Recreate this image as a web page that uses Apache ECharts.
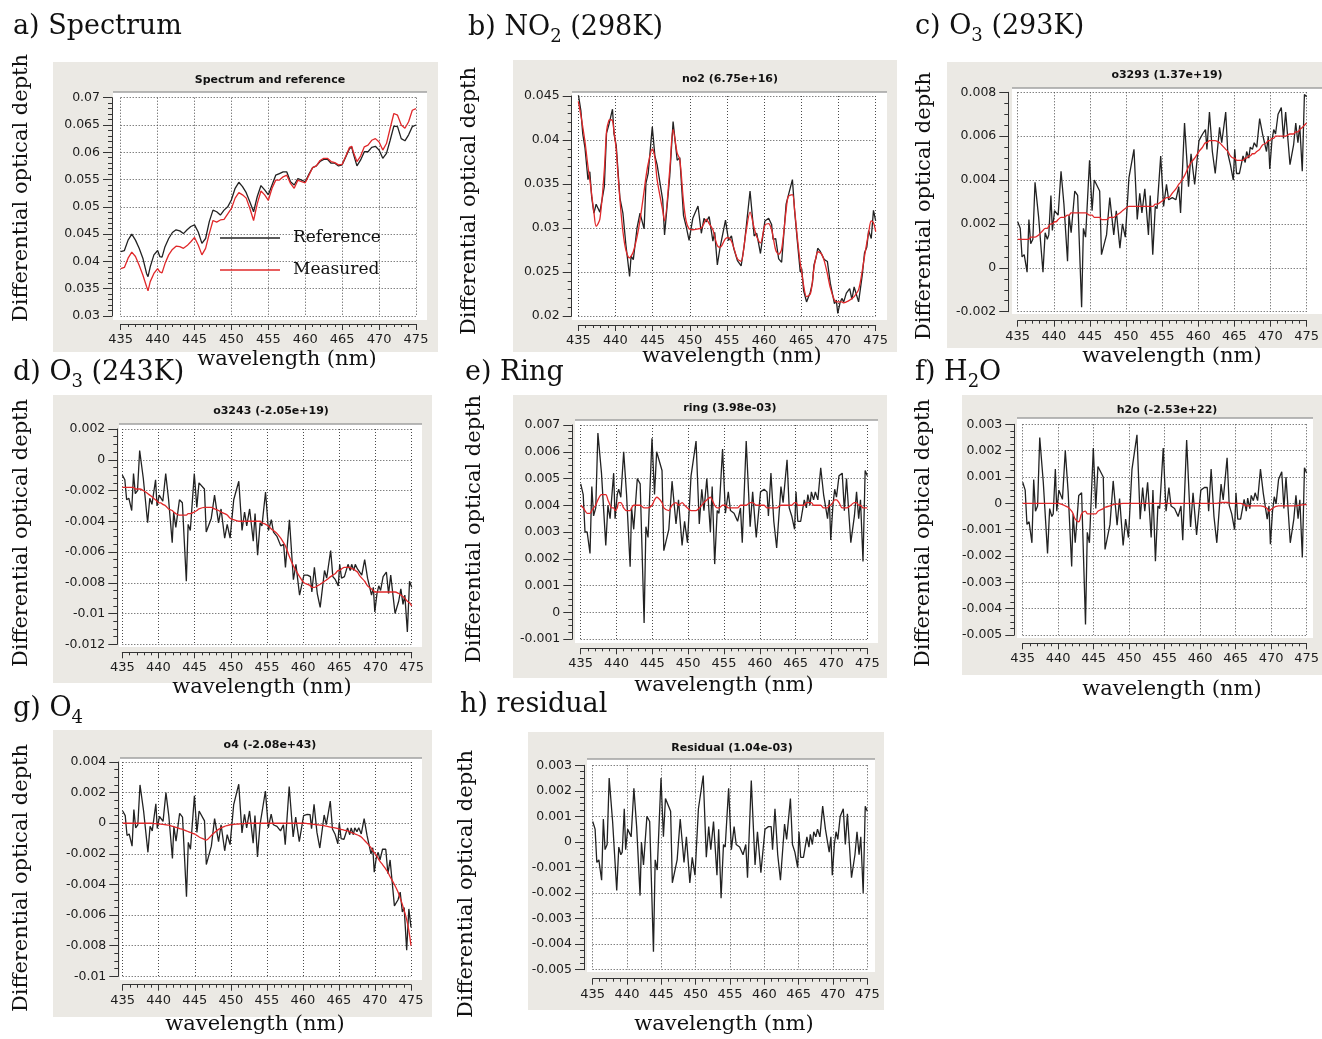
<!DOCTYPE html>
<html>
<head>
<meta charset="utf-8">
<script src="https://cdn.jsdelivr.net/npm/echarts@6/dist/echarts.min.js"></script>
<style>
  html, body { margin: 0; padding: 0; background: #fff; }
  #chart { width: 1322px; height: 1039px; }
</style>
</head>
<body>
<div id="chart"></div>
<script>
// ---------- data ----------
// Wavelength nodes (nm) shared by the fit panels b–h
const wl = [
  435.0, 435.35, 435.6, 435.9, 436.3, 436.55, 436.8, 437.1, 437.4, 437.9,
  438.5, 438.8, 439.1, 439.3, 439.6, 439.8, 440.1, 440.3, 440.6, 441.0,
  441.4, 441.9, 442.1, 442.4, 442.9, 443.3, 443.85, 444.1, 444.4, 444.95,
  445.3, 445.6, 446.35, 446.6, 447.3, 447.75, 448.3, 448.65, 449.15, 449.5,
  449.9, 450.4, 451.1, 451.55, 451.9, 452.2, 452.6, 453.1, 453.35, 453.7,
  454.05, 454.3, 454.8, 455.2, 455.6, 455.9, 456.4, 456.9, 457.3, 457.55,
  458.1, 458.65, 459.0, 459.5, 460.1, 460.6, 461.0, 461.2, 461.55, 461.95,
  462.35, 462.95, 463.25, 463.8, 464.1, 464.45, 464.85, 465.05, 465.3, 465.7,
  466.2, 466.5, 466.7, 467.0, 467.2, 467.5, 467.75, 468.1, 468.5, 468.9,
  469.45, 469.7, 469.9, 470.2, 470.45, 470.7, 471.05, 471.5, 471.8, 472.1,
  472.7, 473.2, 473.5, 473.8, 474.05, 474.4, 474.7, 475.0
];

// Fit residual (optical depth)
const residual = [
  0.0008, 0.0005, -0.0008, -0.0007, -0.0015, 0.0009, -0.0003, -0.0001, 0.0025, 0.0008,
  -0.0019, -0.0002, -0.0005, -0.0004, 0.0013, -0.0003, 0.0005, 0.0005, 0.0002, 0.0021,
  0.0006, -0.0021, 0.0000, -0.0009, 0.0010, 0.0008, -0.0043, -0.0007, -0.0011, 0.0025,
  0.0002, 0.0017, 0.0012, -0.0016, -0.0007, 0.0009, -0.0008, 0.0002, -0.0016, -0.0006,
  -0.0013, 0.0013, 0.0026, -0.0006, 0.0006, -0.0003, 0.0008, -0.0013, 0.0005, -0.0022,
  -0.0001, -0.0002, 0.0021, -0.0003, 0.0006, -0.0001, -0.0002, -0.0005, -0.0001, -0.0014,
  0.0024, -0.0009, 0.0004, -0.0012, 0.0005, 0.0006, 0.0006, -0.0003, 0.0013, -0.0005,
  -0.0015, 0.0007, 0.0001, 0.0017, -0.0001, -0.0004, -0.0010, 0.0004, -0.0006, -0.0006,
  0.0002, -0.0002, 0.0003, -0.0001, 0.0004, 0.0002, 0.0005, 0.0002, 0.0014, 0.0005,
  -0.0004, 0.0002, -0.0013, -0.0001, 0.0004, 0.0001, 0.0010, 0.0013, -0.0001, 0.0011,
  -0.0014, -0.0005, 0.0004, -0.0005, 0.0002, -0.0020, 0.0014, 0.0012
];

// Fitted (scaled) cross sections
const fitNO2 = [
  0.0444, 0.0428, 0.0415, 0.0398, 0.0370, 0.0355, 0.0338, 0.0318, 0.0302, 0.0310,
  0.0366, 0.0410, 0.0422, 0.0423, 0.0422, 0.0410, 0.0389, 0.0365, 0.0332, 0.0296,
  0.0275, 0.0266, 0.0268, 0.0273, 0.0290, 0.0309, 0.0342, 0.0358, 0.0373, 0.0390,
  0.0380, 0.0355, 0.0320, 0.0308, 0.0366, 0.0412, 0.0385, 0.0378, 0.0330, 0.0308,
  0.0299, 0.0298, 0.0299, 0.0300, 0.0305, 0.0310, 0.0305, 0.0298, 0.0290, 0.0280,
  0.0278, 0.0280, 0.0288, 0.0289, 0.0285, 0.0278, 0.0265, 0.0262, 0.0280, 0.0295,
  0.0318, 0.0300, 0.0290, 0.0283, 0.0303, 0.0305, 0.0298, 0.0290, 0.0275, 0.0270,
  0.0276, 0.0320, 0.0336, 0.0338, 0.0320, 0.0290, 0.0260, 0.0250, 0.0235, 0.0222,
  0.0225, 0.0240, 0.0255, 0.0268, 0.0273, 0.0272, 0.0270, 0.0262, 0.0248, 0.0232,
  0.0218, 0.0216, 0.0216, 0.0216, 0.0216, 0.0215, 0.0216, 0.0218, 0.0220, 0.0222,
  0.0230, 0.0252, 0.0268, 0.0283, 0.0295, 0.0308, 0.0306, 0.0296
];

const fitO3_293 = [
  0.0013, 0.0013, 0.0013, 0.0013, 0.0013, 0.0013, 0.0014, 0.0014, 0.0014, 0.0015,
  0.0017, 0.0018, 0.0018, 0.0019, 0.0020, 0.0020, 0.0021, 0.0021, 0.0022, 0.0023,
  0.0023, 0.0024, 0.0024, 0.0025, 0.0025, 0.0025, 0.0025, 0.0025, 0.0025, 0.0024,
  0.0024, 0.0023, 0.0023, 0.0022, 0.0022, 0.0023, 0.0023, 0.0024, 0.0025, 0.0026,
  0.0027, 0.0028, 0.0028, 0.0028, 0.0028, 0.0028, 0.0028, 0.0028, 0.0028, 0.0028,
  0.0029, 0.0029, 0.0030, 0.0031, 0.0032, 0.0032, 0.0034, 0.0036, 0.0038, 0.0039,
  0.0042, 0.0046, 0.0048, 0.0050, 0.0053, 0.0055, 0.0057, 0.0057, 0.0058, 0.0058,
  0.0058, 0.0057, 0.0056, 0.0054, 0.0053, 0.0051, 0.0050, 0.0050, 0.0049, 0.0049,
  0.0049, 0.0050, 0.0050, 0.0051, 0.0051, 0.0052, 0.0052, 0.0053, 0.0054, 0.0056,
  0.0057, 0.0058, 0.0058, 0.0059, 0.0059, 0.0060, 0.0060, 0.0060, 0.0060, 0.0060,
  0.0061, 0.0061, 0.0062, 0.0062, 0.0063, 0.0064, 0.0065, 0.0066
];

const fitO3_243 = [
  -0.0018, -0.0018, -0.0018, -0.0018, -0.0018, -0.0018, -0.0019, -0.0019, -0.0019, -0.0020,
  -0.0022, -0.0023, -0.0024, -0.0025, -0.0026, -0.0027, -0.0028, -0.0028, -0.0029, -0.0030,
  -0.0032, -0.0033, -0.0034, -0.0035, -0.0036, -0.0036, -0.0036, -0.0035, -0.0035, -0.0034,
  -0.0033, -0.0032, -0.0031, -0.0031, -0.0031, -0.0032, -0.0033, -0.0034, -0.0035, -0.0036,
  -0.0038, -0.0039, -0.0040, -0.0040, -0.0040, -0.0040, -0.0040, -0.0040, -0.0040, -0.0040,
  -0.0040, -0.0041, -0.0042, -0.0043, -0.0045, -0.0046, -0.0048, -0.0051, -0.0054, -0.0056,
  -0.0063, -0.0069, -0.0072, -0.0076, -0.0080, -0.0081, -0.0082, -0.0083, -0.0083, -0.0082,
  -0.0081, -0.0079, -0.0078, -0.0076, -0.0075, -0.0074, -0.0072, -0.0072, -0.0071, -0.0070,
  -0.0070, -0.0070, -0.0071, -0.0071, -0.0072, -0.0073, -0.0075, -0.0077, -0.0079, -0.0082,
  -0.0084, -0.0085, -0.0086, -0.0086, -0.0086, -0.0086, -0.0086, -0.0086, -0.0086, -0.0086,
  -0.0086, -0.0087, -0.0088, -0.0089, -0.0090, -0.0092, -0.0093, -0.0095
];

const fitRing = [
  0.0040, 0.0039, 0.0038, 0.0037, 0.0037, 0.0038, 0.0039, 0.0040, 0.0042, 0.0044,
  0.0044, 0.0042, 0.0040, 0.0039, 0.0039, 0.0038, 0.0039, 0.0041, 0.0041, 0.0039,
  0.0038, 0.0038, 0.0039, 0.0040, 0.0040, 0.0040, 0.0039, 0.0039, 0.0039, 0.0040,
  0.0042, 0.0043, 0.0041, 0.0039, 0.0038, 0.0040, 0.0041, 0.0040, 0.0041, 0.0040,
  0.0039, 0.0038, 0.0038, 0.0039, 0.0040, 0.0041, 0.0042, 0.0043, 0.0042, 0.0040,
  0.0039, 0.0039, 0.0040, 0.0040, 0.0039, 0.0039, 0.0039, 0.0039, 0.0040, 0.0040,
  0.0040, 0.0041, 0.0041, 0.0040, 0.0040, 0.0040, 0.0039, 0.0039, 0.0039, 0.0039,
  0.0039, 0.0040, 0.0040, 0.0040, 0.0040, 0.0040, 0.0041, 0.0041, 0.0040, 0.0040,
  0.0040, 0.0041, 0.0041, 0.0041, 0.0041, 0.0040, 0.0040, 0.0040, 0.0040, 0.0039,
  0.0039, 0.0040, 0.0040, 0.0041, 0.0042, 0.0042, 0.0041, 0.0039, 0.0039, 0.0039,
  0.0040, 0.0041, 0.0041, 0.0040, 0.0040, 0.0039, 0.0039, 0.0039
];

const fitH2O = [
  0, 0, 0, 0, 0, 0, 0, 0, 0, 0,
  0, 0, 0, 0, 0, 0, 0, -0.00002, -0.00005, -0.0001,
  -0.00015, -0.0003, -0.0004, -0.0006, -0.0007, -0.0004, -0.0003, -0.0004, -0.0004, -0.0004,
  -0.0004, -0.0003, -0.0002, -0.00015, -0.0001, -0.00005, -0.00003, -0.00002, 0, 0,
  0, 0, 0, 0, 0, 0, 0, 0, 0, 0,
  0, 0, 0, 0, 0, 0, 0, 0, 0, 0,
  0, 0, 0, 0, 0, 0, 0, 0, 0, 0,
  0, 0.00003, 0.00003, 0.00003, 0.00002, 0, 0, 0, 0, 0,
  -0.00005, -0.0001, -0.0001, -0.0001, -0.0001, -0.0001, -0.0001, -0.0001, -0.0001, -0.00012,
  -0.0002, -0.0003, -0.00025, -0.0002, -0.00015, -0.00012, -0.0001, -0.0001, -0.0001, -0.0001,
  -0.0001, -0.0001, -0.0001, -0.00008, -0.00007, -0.00006, -0.00005, -0.00005
];

const fitO4 = [
  0, 0, 0, 0, 0, 0, 0, 0, 0, 0,
  0, 0, 0, -0.00002, -0.00003, -0.00004, -0.00005, -0.00006, -0.00008, -0.0001,
  -0.00013, -0.0002, -0.00022, -0.00027, -0.00035, -0.0004, -0.0005, -0.00055, -0.0006, -0.0007,
  -0.0008, -0.0009, -0.00105, -0.0011, -0.0008, -0.0006, -0.0004, -0.0003, -0.0002, -0.00015,
  -0.0001, -0.00008, -0.00005, -0.00003, -0.00002, 0, 0, 0, 0, 0,
  0, 0, 0, 0, 0, 0, 0, 0, 0, 0,
  0, 0, 0, 0, 0, -0.00002, -0.00004, -0.00005, -0.00007, -0.0001,
  -0.00012, -0.00016, -0.00019, -0.00025, -0.00028, -0.0003, -0.00035, -0.00038, -0.0004, -0.00045,
  -0.0005, -0.00055, -0.0006, -0.00065, -0.0007, -0.00075, -0.0008, -0.0009, -0.0011, -0.0013,
  -0.0016, -0.0018, -0.0019, -0.0021, -0.0023, -0.0025, -0.0027, -0.0030, -0.0032, -0.0035,
  -0.0040, -0.0045, -0.0049, -0.0053, -0.0057, -0.0063, -0.0070, -0.0080
];

// Panel a: measured spectrum and reference
const specWl = [
  435.0, 435.5, 436.0, 436.5, 437.0, 437.5, 438.0, 438.5, 438.7, 439.0,
  439.5, 440.0, 440.3, 440.6, 441.0, 441.5, 442.0, 442.5, 443.0, 443.5,
  444.0, 444.5, 445.0, 445.5, 446.0, 446.5, 447.0, 447.5, 448.0, 448.5,
  449.0, 449.5, 450.0, 450.5, 451.0, 451.5, 452.0, 452.5, 453.0, 453.5,
  454.0, 454.5, 455.0, 455.5, 456.0, 456.5, 457.0, 457.5, 458.0, 458.5,
  459.0, 459.5, 460.0, 460.5, 461.0, 461.5, 462.0, 462.5, 463.0, 463.5,
  464.0, 464.5, 465.0, 465.5, 466.0, 466.3, 466.5, 467.0, 467.5, 468.0,
  468.5, 469.0, 469.5, 470.0, 470.5, 471.0, 471.5, 472.0, 472.5, 473.0,
  473.5, 474.0, 474.5, 475.0
];
const specReference = [
  0.0418, 0.0420, 0.0439, 0.0450, 0.0439, 0.0424, 0.0406, 0.0378, 0.0372, 0.0390,
  0.0412, 0.0420, 0.0409, 0.0408, 0.0427, 0.0442, 0.0453, 0.0458, 0.0456, 0.0451,
  0.0458, 0.0464, 0.0467, 0.0454, 0.0433, 0.0442, 0.0473, 0.0494, 0.0491, 0.0485,
  0.0494, 0.0500, 0.0513, 0.0534, 0.0545, 0.0537, 0.0526, 0.0509, 0.0491, 0.0519,
  0.0539, 0.0531, 0.0522, 0.0540, 0.0558, 0.0561, 0.0564, 0.0564, 0.0546, 0.0540,
  0.0552, 0.0549, 0.0546, 0.0560, 0.0572, 0.0575, 0.0583, 0.0587, 0.0587, 0.0580,
  0.0580, 0.0575, 0.0577, 0.0592, 0.0607, 0.0609, 0.0598, 0.0575, 0.0586, 0.0601,
  0.0601, 0.0609, 0.0611, 0.0604, 0.0589, 0.0598, 0.0622, 0.0648, 0.0647, 0.0625,
  0.0621, 0.0632, 0.0647, 0.0650
];
const specMeasured = [
  0.0387, 0.0389, 0.0406, 0.0417, 0.0409, 0.0393, 0.0375, 0.0354, 0.0346, 0.0363,
  0.0378, 0.0387, 0.0381, 0.0379, 0.0396, 0.0412, 0.0422, 0.0428, 0.0427, 0.0424,
  0.0429, 0.0436, 0.0444, 0.0430, 0.0412, 0.0424, 0.0451, 0.0475, 0.0472, 0.0476,
  0.0477, 0.0487, 0.0497, 0.0516, 0.0526, 0.0522, 0.0516, 0.0497, 0.0475, 0.0506,
  0.0529, 0.0522, 0.0512, 0.0534, 0.0549, 0.0549, 0.0555, 0.0558, 0.0543, 0.0534,
  0.0549, 0.0546, 0.0544, 0.0558, 0.0572, 0.0575, 0.0585, 0.0589, 0.0589, 0.0583,
  0.0581, 0.0577, 0.0578, 0.0593, 0.0609, 0.0611, 0.0601, 0.0583, 0.0593, 0.0610,
  0.0613, 0.0622, 0.0625, 0.0619, 0.0604, 0.0616, 0.0644, 0.0671, 0.0668, 0.0650,
  0.0644, 0.0656, 0.0677, 0.0680
];

// Axis scales: [min, max, major step, minor splits]
const xScale = [435, 475, 5, 5];
const yScales = [
  [0.03, 0.07, 0.005, 5],
  [0.02, 0.045, 0.005, 5],
  [-0.002, 0.008, 0.002, 4],
  [-0.012, 0.002, 0.002, 4],
  [-0.001, 0.007, 0.001, 4],
  [-0.005, 0.003, 0.001, 4],
  [-0.01, 0.004, 0.002, 4],
  [-0.005, 0.003, 0.001, 4]
];

// Texts
const plotTitles = [
  'Spectrum and reference', 'no2 (6.75e+16)', 'o3293 (1.37e+19)', 'o3243 (-2.05e+19)',
  'ring (3.98e-03)', 'h2o (-2.53e+22)', 'o4 (-2.08e+43)', 'Residual (1.04e-03)'
];
// [text, isSubscript] pieces
const panelNames = [
  [['a) Spectrum']],
  [['b) NO'], ['2', true], [' (298K)']],
  [['c) O'], ['3', true], [' (293K)']],
  [['d) O'], ['3', true], [' (243K)']],
  [['e) Ring']],
  [['f) H'], ['2', true], ['O']],
  [['g) O'], ['4', true]],
  [['h) residual']]
];
const yTitle = 'Differential optical depth';
const xTitle = 'wavelength (nm)';
const legendNames = ['Reference', 'Measured'];

// ---------- layout ----------
// box: beige panel; white: plotting canvas; grid: data rect [left, top, width, height]
const layout = [
  { box: [53, 62, 385, 290], white: [113, 92, 314, 228], grid: [120.7, 97.7, 295.3, 218.3], yOff: 8.7, xOff: 8,
    title: [270, 80], name: [13, 27], yT: [22, 188], xT: [287, 360] },
  { box: [513, 60, 384, 292], white: [572, 92, 315, 228], grid: [578.3, 96, 297.4, 220], yOff: 6.6, xOff: 9,
    title: [730, 79], name: [468, 28], yT: [470, 201], xT: [732, 357] },
  { box: [947, 62, 380, 286], white: [1012, 88, 315, 226], grid: [1017.7, 92.3, 295, 219.4], yOff: 9.4, xOff: 9,
    title: [1167, 75], name: [915, 27], yT: [925, 206], xT: [1172, 357] },
  { box: [53, 395, 379, 288], white: [119, 424, 303, 223], grid: [122.3, 429, 289.4, 215.3], yOff: 5, xOff: 8,
    title: [271, 411], name: [13, 373], yT: [22, 533], xT: [262, 688] },
  { box: [513, 395, 374, 283], white: [575, 420, 303, 223], grid: [580.7, 425, 286.6, 214], yOff: 8.4, xOff: 9.3,
    title: [730, 408], name: [465, 373], yT: [475, 529], xT: [724, 686] },
  { box: [962, 395, 365, 280], white: [1017, 418, 296, 220], grid: [1022.7, 424.3, 284, 210.7], yOff: 8.4, xOff: 8.3,
    title: [1167, 410], name: [915, 373], yT: [924, 533], xT: [1172, 690] },
  { box: [53, 730, 379, 287], white: [120, 758, 302, 222], grid: [122.7, 762, 288.3, 214.3], yOff: 4.4, xOff: 8.4,
    title: [270, 745], name: [13, 709], yT: [22, 878], xT: [255, 1025] },
  { box: [528, 732, 356, 278], white: [587, 759, 288, 213], grid: [592.7, 765.3, 274.6, 204.4], yOff: 8.7, xOff: 9,
    title: [732, 748], name: [460, 705], yT: [467, 884], xT: [724, 1025] }
];

const SERIF = 'DejaVu Serif';
const SANS = 'DejaVu Sans';
const INK = '#1c1c1c';
const BLACK_LINE = '#222222';
const RED_LINE = '#e0282a';

const measureCtx = document.createElement('canvas').getContext('2d');
function textWidth(t, size, family) {
  measureCtx.font = size + 'px "' + family + '"';
  return measureCtx.measureText(t).width;
}

function pairs(xs, ys) { return xs.map((x, i) => [x, ys[i]]); }
function withResidual(fit) { return fit.map((v, i) => +(v + residual[i]).toFixed(6)); }
function fmt(v) { return String(parseFloat(Number(v).toPrecision(6))); }

const axisColor = '#333';
const gridLine = { show: true, lineStyle: { color: '#4a4a4a', width: 1, type: [1, 2] } };

const grids = [], xAxes = [], yAxes = [], graphics = [];

layout.forEach((p, i) => {
  const s = yScales[i];
  grids.push({ left: p.grid[0], top: p.grid[1], width: p.grid[2], height: p.grid[3], containLabel: false });
  xAxes.push({
    type: 'value', gridIndex: i, min: xScale[0], max: xScale[1], interval: xScale[2], offset: p.xOff,
    axisLine: { show: true, onZero: false, lineStyle: { color: axisColor, width: 1 } },
    axisTick: { show: true, length: 6, lineStyle: { color: axisColor } },
    minorTick: { show: true, splitNumber: xScale[3], length: 3, lineStyle: { color: axisColor } },
    axisLabel: { color: INK, fontSize: 13, fontFamily: SANS, margin: 9, showMinLabel: true, showMaxLabel: true },
    splitLine: gridLine
  });
  yAxes.push({
    type: 'value', gridIndex: i, min: s[0], max: s[1], interval: s[2], offset: p.yOff,
    axisLine: { show: true, onZero: false, lineStyle: { color: axisColor, width: 1 } },
    axisTick: { show: true, length: 9, lineStyle: { color: axisColor } },
    minorTick: { show: true, splitNumber: s[3], length: 4, lineStyle: { color: axisColor } },
    axisLabel: { color: INK, fontSize: 12.5, fontFamily: SANS, margin: 12, formatter: fmt, showMinLabel: true, showMaxLabel: true },
    splitLine: gridLine
  });

  // panel backdrop and plotting canvas
  graphics.push({ type: 'rect', z: -10, silent: true,
    shape: { x: p.box[0], y: p.box[1], width: p.box[2], height: p.box[3] }, style: { fill: '#ebe9e4' } });
  graphics.push({ type: 'rect', z: -9, silent: true,
    shape: { x: p.white[0], y: p.white[1], width: p.white[2], height: p.white[3] }, style: { fill: '#ffffff' } });
  graphics.push({ type: 'line', z: -8, silent: true,
    shape: { x1: p.white[0], y1: p.white[1], x2: p.white[0] + p.white[2], y2: p.white[1] },
    style: { stroke: '#a0a0a0', lineWidth: 1.5 } });

  // plot title
  graphics.push({ type: 'text', z: 10, x: p.title[0], y: p.title[1],
    style: { text: plotTitles[i], fontFamily: SANS, fontWeight: 'bold', fontSize: 11, fill: '#111',
      align: 'center', verticalAlign: 'middle' } });

  // panel name with subscripts
  let cx = p.name[0];
  panelNames[i].forEach(([t, sub]) => {
    const size = sub ? 18 : 27;
    graphics.push({ type: 'text', z: 10, x: cx, y: sub ? p.name[1] + 9 : p.name[1],
      style: { text: t, fontFamily: SERIF, fontSize: size, fill: '#111', align: 'left', verticalAlign: 'middle' } });
    cx += textWidth(t, size, SERIF);
  });

  // axis titles
  graphics.push({ type: 'text', z: 10, x: p.yT[0], y: p.yT[1], rotation: Math.PI / 2,
    style: { text: yTitle, fontFamily: SERIF, fontSize: 21, fill: '#111', align: 'center', verticalAlign: 'middle' } });
  graphics.push({ type: 'text', z: 10, x: p.xT[0], y: p.xT[1],
    style: { text: xTitle, fontFamily: SERIF, fontSize: 21, fill: '#111', align: 'center', verticalAlign: 'middle' } });
});

// legend of panel a
[[BLACK_LINE, 238], [RED_LINE, 270]].forEach(([c, y], k) => {
  graphics.push({ type: 'line', z: 10, silent: true, shape: { x1: 220, y1: y, x2: 280, y2: y },
    style: { stroke: c, lineWidth: 1.6 } });
  graphics.push({ type: 'text', z: 10, x: 293, y: y,
    style: { text: legendNames[k], fontFamily: SERIF, fontSize: 17, fill: '#111', align: 'left', verticalAlign: 'middle' } });
});

function lineSeries(idx, data, color, smooth) {
  return {
    type: 'line', xAxisIndex: idx, yAxisIndex: idx, data: data, showSymbol: false, symbol: 'none',
    smooth: smooth || false, lineStyle: { color: color, width: 1.3 }, z: 3
  };
}

const fits = [fitNO2, fitO3_293, fitO3_243, fitRing, fitH2O, fitO4];
const series = [
  lineSeries(0, pairs(specWl, specReference), BLACK_LINE),
  lineSeries(0, pairs(specWl, specMeasured), RED_LINE)
];
fits.forEach((fit, k) => {
  series.push(lineSeries(k + 1, pairs(wl, withResidual(fit)), BLACK_LINE));
  series.push(lineSeries(k + 1, pairs(wl, fit), RED_LINE, 0.3));
});
series.push(lineSeries(7, pairs(wl, residual), BLACK_LINE));

const chart = echarts.init(document.getElementById('chart'), null, { renderer: 'canvas' });
chart.setOption({
  animation: false,
  backgroundColor: '#ffffff',
  grid: grids,
  xAxis: xAxes,
  yAxis: yAxes,
  graphic: { elements: graphics },
  series: series
});
</script>
</body>
</html>
